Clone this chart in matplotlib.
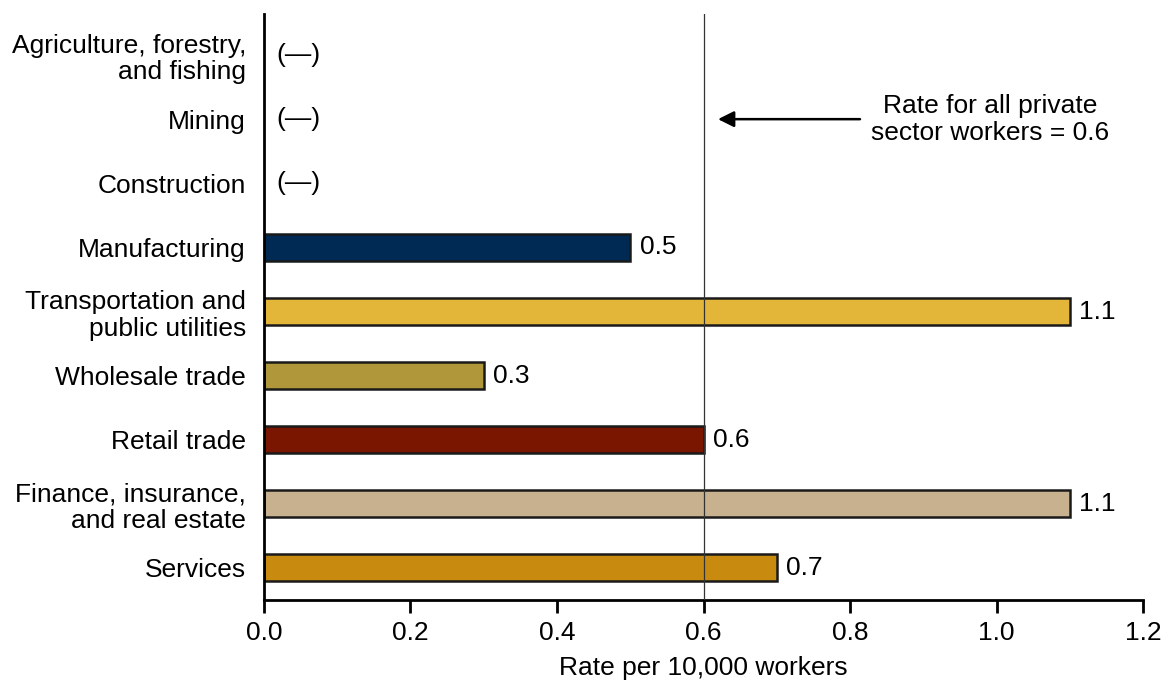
import matplotlib.pyplot as plt

plt.rcParams['font.family'] = ['Liberation Sans', 'DejaVu Sans']

# data
industries = ['Agriculture, forestry,\nand fishing', 'Mining', 'Construction',
              'Manufacturing', 'Transportation and\npublic utilities',
              'Wholesale trade', 'Retail trade',
              'Finance, insurance,\nand real estate', 'Services']
rates = [None, None, None, 0.5, 1.1, 0.3, 0.6, 1.1, 0.7]
colors = ['white', 'white', 'white', '#002A54', '#E3B63A', '#B0973A',
          '#7A1500', '#C8B18E', '#C98A10']
all_private = 0.6
xticks = [0.0, 0.2, 0.4, 0.6, 0.8, 1.0, 1.2]

FS = 19

fig = plt.figure(figsize=(11.66, 6.84), dpi=100)
ax = fig.add_axes([0.2264, 0.1228, 0.7539, 0.8567])

ypos = list(range(len(industries)))
for y, r, c in zip(ypos, rates, colors):
    if r is None:
        ax.text(0.017, y, '(\u2014)', va='center', ha='left', fontsize=FS)
    else:
        ax.barh(y, r, height=0.42, color=c, edgecolor='#1a1a1a', linewidth=1.8, zorder=2)
        ax.text(r + 0.013, y, f'{r:.1f}', va='center', ha='left', fontsize=FS)

# reference line + note, placed on the Mining row
ax.axvline(all_private, color='#333333', linewidth=0.9, zorder=3)
ax.annotate('', xy=(0.6198, 1), xytext=(0.8136, 1),
            arrowprops=dict(arrowstyle='-|>', color='black', lw=1.8,
                            mutation_scale=24, shrinkA=0, shrinkB=0))
ax.text(0.991, 1, 'Rate for all private\nsector workers = 0.6', ha='center',
        va='center', fontsize=FS, linespacing=1.15)

ax.set_ylim(8.5, -0.64)
ax.set_xlim(0, 1.2)
ax.set_yticks(ypos)
ax.set_yticklabels(industries, fontsize=FS, linespacing=1.15)
ax.tick_params(axis='y', length=0, pad=13)
ax.set_xticks(xticks)
ax.set_xticklabels([f'{t:.1f}' for t in xticks], fontsize=FS)
ax.tick_params(axis='x', length=9, width=2, direction='out', pad=6)
ax.set_xlabel('Rate per 10,000 workers', fontsize=FS, labelpad=8)

for s in ['top', 'right']:
    ax.spines[s].set_visible(False)
for s in ['left', 'bottom']:
    ax.spines[s].set_linewidth(2)

fig.savefig('out.png', dpi=100)
